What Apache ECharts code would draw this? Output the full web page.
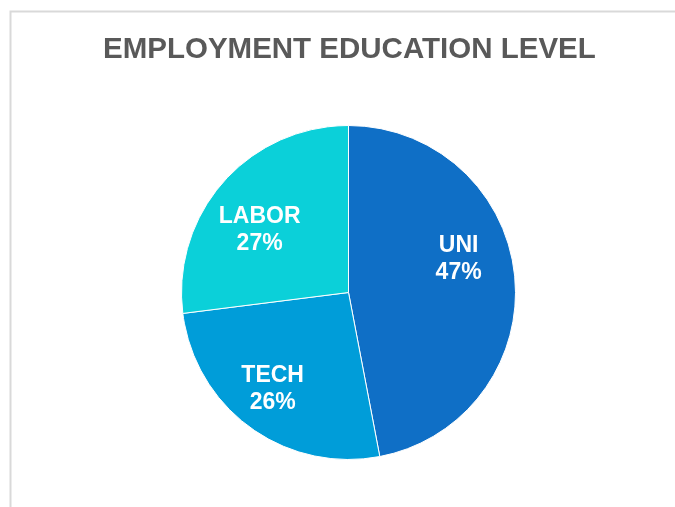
<!DOCTYPE html>
<html>
<head>
<meta charset="utf-8">
<script src="https://cdn.jsdelivr.net/npm/echarts@6/dist/echarts.min.js"></script>
<style>
  html, body { margin: 0; padding: 0; background: #ffffff; }
  #chart { width: 675px; height: 507px; }
</style>
</head>
<body>
<div id="chart"></div>
<script>
// Share of employment by education level (percent)
const categories = ['UNI', 'TECH', 'LABOR'];
const shares = [47, 26, 27];
const sliceColors = ['#0F6FC6', '#009DD9', '#0BD0D9'];
// Label nudges so each label sits where it reads best inside its slice
const labelOffsets = [[24, -25], [-25, 27], [-24, -5]];

const chart = echarts.init(document.getElementById('chart'), null, { renderer: 'canvas' });

const data = categories.map((name, i) => ({
  name: name,
  value: shares[i],
  itemStyle: { color: sliceColors[i] },
  label: { offset: labelOffsets[i] }
}));

chart.setOption({
  animation: false,
  backgroundColor: '#ffffff',
  title: {
    text: 'EMPLOYMENT EDUCATION LEVEL',
    left: 103,
    top: 35,
    padding: 0,
    textStyle: {
      fontFamily: 'Liberation Sans, Arial, sans-serif',
      fontSize: 29.5,
      fontWeight: 'bold',
      color: '#595959'
    }
  },
  graphic: [{
    type: 'rect',
    silent: true,
    shape: { x: 10.5, y: 11.5, width: 720, height: 600 },
    style: { fill: 'none', stroke: '#d9d9d9', lineWidth: 2 },
    z: -1
  }],
  series: [{
    type: 'pie',
    center: [348.5, 292.5],
    radius: 167,
    startAngle: 90,
    clockwise: true,
    data: data,
    itemStyle: { borderColor: '#ffffff', borderWidth: 1 },
    label: {
      show: true,
      position: 'inside',
      formatter: p => p.name + '\n' + p.value + '%',
      color: '#ffffff',
      fontFamily: 'Liberation Sans, Arial, sans-serif',
      fontSize: 23,
      fontWeight: 'bold',
      lineHeight: 27,
      align: 'center'
    },
    labelLine: { show: false },
    emphasis: { disabled: true }
  }]
});
</script>
</body>
</html>
